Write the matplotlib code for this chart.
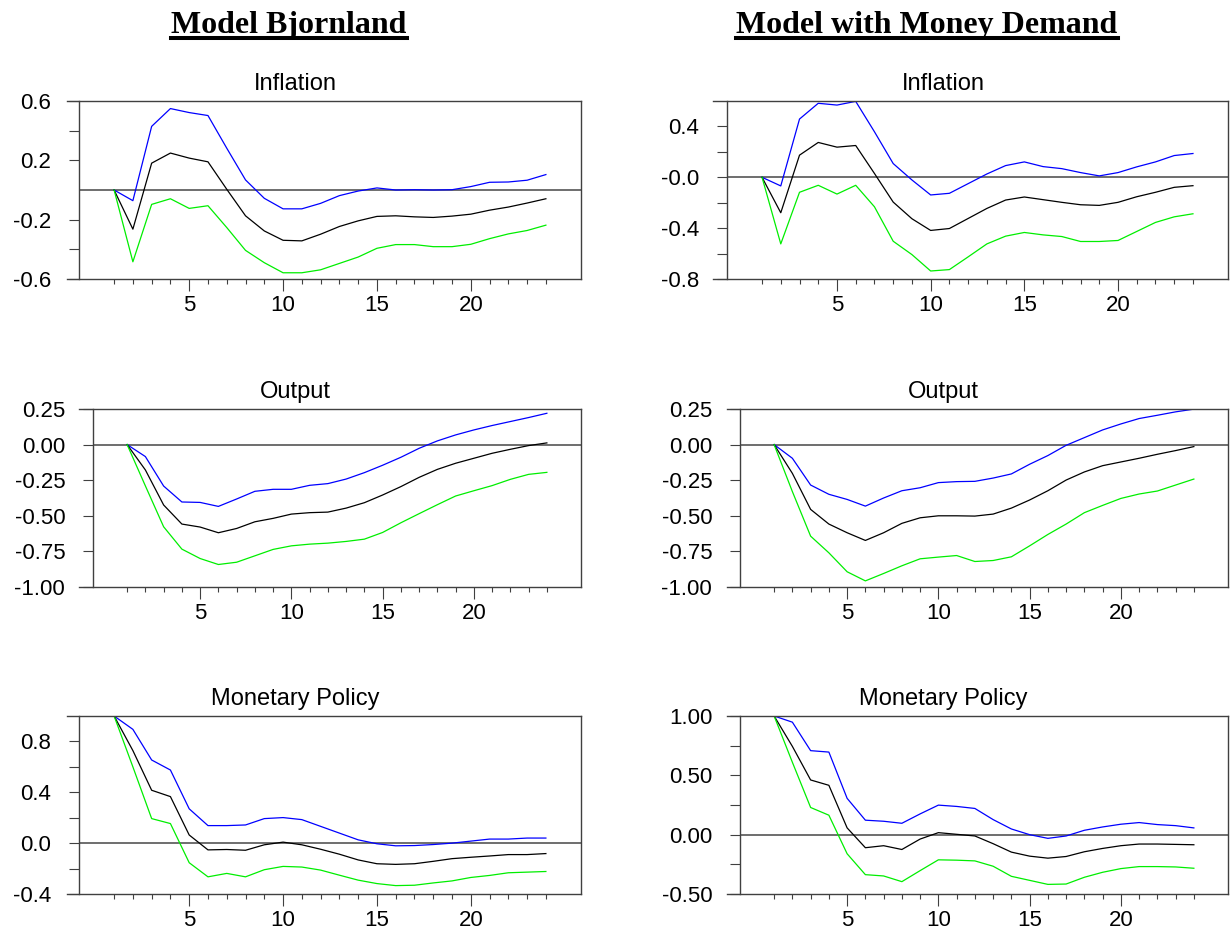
import matplotlib
matplotlib.use('Agg')
import matplotlib.pyplot as plt
from matplotlib.lines import Line2D

plt.rcParams['font.family'] = ['Liberation Sans', 'DejaVu Sans']

periods = list(range(1, 25))

# Model Bjornland - impulse responses (point estimate, upper band, lower band)
bjInfl = [0.0, -0.264, 0.181, 0.249, 0.215, 0.19, 0.005, -0.174, -0.276, -0.339, -0.343, -0.298,
          -0.246, -0.208, -0.178, -0.174, -0.181, -0.185, -0.176, -0.163, -0.136, -0.115, -0.088, -0.059]
bjInflUp = [0.0, -0.072, 0.429, 0.549, 0.522, 0.502, 0.282, 0.068, -0.056, -0.127, -0.127, -0.09,
            -0.038, -0.007, 0.014, 0.0, 0.002, 0.0, 0.002, 0.023, 0.052, 0.054, 0.066, 0.104]
bjInflLow = [0.0, -0.484, -0.097, -0.059, -0.124, -0.106, -0.253, -0.407, -0.49, -0.558, -0.558, -0.538,
             -0.495, -0.452, -0.393, -0.368, -0.368, -0.382, -0.382, -0.366, -0.328, -0.296, -0.273, -0.237]

bjOut = [0.0, -0.178, -0.424, -0.558, -0.579, -0.619, -0.589, -0.542, -0.518, -0.488, -0.478, -0.474,
         -0.446, -0.408, -0.354, -0.295, -0.23, -0.174, -0.131, -0.096, -0.061, -0.033, -0.007, 0.012]
bjOutUp = [0.0, -0.084, -0.291, -0.403, -0.406, -0.434, -0.382, -0.328, -0.314, -0.314, -0.286, -0.274,
           -0.242, -0.197, -0.145, -0.089, -0.026, 0.026, 0.068, 0.103, 0.134, 0.162, 0.19, 0.22]
bjOutLow = [0.0, -0.29, -0.577, -0.734, -0.8, -0.842, -0.826, -0.781, -0.736, -0.711, -0.699, -0.692,
            -0.68, -0.664, -0.617, -0.549, -0.485, -0.422, -0.361, -0.324, -0.288, -0.244, -0.209, -0.195]

bjMp = [1.0, 0.728, 0.416, 0.366, 0.064, -0.053, -0.05, -0.056, -0.013, 0.008, -0.013, -0.048,
        -0.087, -0.132, -0.162, -0.167, -0.162, -0.143, -0.122, -0.111, -0.101, -0.09, -0.09, -0.082]
bjMpUp = [1.0, 0.895, 0.654, 0.575, 0.27, 0.138, 0.138, 0.143, 0.193, 0.201, 0.185, 0.132,
          0.079, 0.026, -0.005, -0.021, -0.019, -0.011, 0.0, 0.016, 0.032, 0.032, 0.04, 0.04]
bjMpLow = [1.0, 0.6, 0.193, 0.154, -0.154, -0.265, -0.238, -0.265, -0.209, -0.183, -0.188, -0.212,
           -0.252, -0.291, -0.318, -0.334, -0.331, -0.313, -0.297, -0.27, -0.254, -0.233, -0.228, -0.223]

# Model with Money Demand
mdInfl = [0.0, -0.279, 0.174, 0.274, 0.237, 0.25, 0.03, -0.195, -0.326, -0.418, -0.403, -0.324,
          -0.245, -0.179, -0.155, -0.176, -0.197, -0.216, -0.221, -0.197, -0.153, -0.118, -0.079, -0.066]
mdInflUp = [0.0, -0.068, 0.458, 0.582, 0.568, 0.597, 0.358, 0.108, -0.021, -0.139, -0.126, -0.05,
            0.026, 0.092, 0.121, 0.084, 0.068, 0.037, 0.011, 0.037, 0.082, 0.121, 0.171, 0.187]
mdInflLow = [0.0, -0.524, -0.118, -0.063, -0.132, -0.063, -0.232, -0.503, -0.608, -0.737, -0.726, -0.626,
             -0.524, -0.463, -0.434, -0.453, -0.466, -0.505, -0.505, -0.497, -0.426, -0.355, -0.311, -0.287]

mdOut = [0.0, -0.202, -0.455, -0.558, -0.619, -0.673, -0.619, -0.553, -0.514, -0.5, -0.5, -0.502,
         -0.488, -0.446, -0.389, -0.324, -0.249, -0.192, -0.148, -0.122, -0.096, -0.068, -0.042, -0.014]
mdOutUp = [0.0, -0.096, -0.284, -0.349, -0.385, -0.432, -0.375, -0.324, -0.303, -0.267, -0.26, -0.258,
           -0.235, -0.206, -0.138, -0.077, -0.005, 0.049, 0.103, 0.145, 0.183, 0.206, 0.23, 0.249]
mdOutLow = [0.0, -0.33, -0.643, -0.76, -0.893, -0.957, -0.905, -0.851, -0.802, -0.79, -0.779, -0.821,
            -0.814, -0.788, -0.711, -0.631, -0.558, -0.478, -0.427, -0.378, -0.347, -0.326, -0.284, -0.242]

mdMp = [1.0, 0.744, 0.461, 0.416, 0.057, -0.11, -0.093, -0.125, -0.037, 0.017, 0.003, -0.011,
        -0.076, -0.147, -0.181, -0.198, -0.184, -0.144, -0.116, -0.093, -0.079, -0.079, -0.082, -0.085]
mdMpUp = [1.0, 0.948, 0.708, 0.696, 0.306, 0.122, 0.113, 0.096, 0.175, 0.249, 0.238, 0.221,
          0.127, 0.048, 0.0, -0.031, -0.011, 0.037, 0.065, 0.088, 0.102, 0.085, 0.076, 0.057]
mdMpLow = [1.0, 0.61, 0.229, 0.164, -0.161, -0.337, -0.348, -0.396, -0.303, -0.212, -0.215, -0.221,
           -0.266, -0.351, -0.385, -0.419, -0.416, -0.359, -0.317, -0.286, -0.269, -0.269, -0.272, -0.283]

# y axis ticks (labelled ones and unlabelled ones)
inflTicksL = [-0.6, -0.2, 0.2, 0.6]
inflLabelsL = ['-0.6', '-0.2', '0.2', '0.6']
inflMinorL = [-0.4, 0.4]
inflTicksR = [-0.8, -0.4, 0.0, 0.4]
inflLabelsR = ['-0.8', '-0.4', '-0.0', '0.4']
inflMinorR = [-0.6, -0.2, 0.2]
outTicks = [-1.0, -0.75, -0.5, -0.25, 0.0, 0.25]
outLabels = ['-1.00', '-0.75', '-0.50', '-0.25', '0.00', '0.25']
mpTicksL = [-0.4, 0.0, 0.4, 0.8]
mpLabelsL = ['-0.4', '0.0', '0.4', '0.8']
mpMinorL = [-0.2, 0.2, 0.6]
mpTicksR = [-0.5, 0.0, 0.5, 1.0]
mpLabelsR = ['-0.50', '0.00', '0.50', '1.00']
mpMinorR = [-0.25, 0.25, 0.75]

figW, figH = 1230, 930
fig = plt.figure(figsize=(figW / 100, figH / 100), dpi=100)

SPINE_X = -0.87
X_RIGHT = 25.87
PANEL_H = 178


def makePanel(frameLeft, spinePx, rightPx, topPx, title, titleX, mid, upper, lower,
              ylim, ticks, labels, minor):
    ax = fig.add_axes([frameLeft / figW, 1 - (topPx + PANEL_H) / figH,
                       (rightPx - frameLeft) / figW, PANEL_H / figH])
    unit = (rightPx - spinePx) / (X_RIGHT - SPINE_X)
    ax.set_xlim(SPINE_X - (spinePx - frameLeft) / unit, X_RIGHT)
    ax.set_ylim(*ylim)
    ax.spines['left'].set_position(('data', SPINE_X))
    for s in ax.spines.values():
        s.set_color('#404040')
        s.set_linewidth(1.0)
    ax.hlines(0, SPINE_X, X_RIGHT, color='#555555', lw=1.2, zorder=1)
    ax.plot(periods, upper, color='#0000ff', lw=0.9)
    ax.plot(periods, mid, color='black', lw=0.9)
    ax.plot(periods, lower, color='#00ee00', lw=0.9)
    ax.set_xticks([5, 10, 15, 20])
    ax.set_xticks(periods, minor=True)
    ax.set_yticks(ticks)
    ax.set_yticklabels(labels)
    ax.set_yticks(minor, minor=True)
    ax.tick_params(axis='x', which='major', direction='out', length=8.5, width=0.8,
                   labelsize=16, pad=3, color='#404040')
    ax.tick_params(axis='x', which='minor', direction='out', length=3.6, width=0.8, color='#404040')
    ax.tick_params(axis='y', which='both', direction='out', length=7, width=0.8,
                   labelsize=16, pad=13, color='#404040')
    fig.text(titleX / figW, 1 - (topPx - 11) / figH, title, ha='center', va='baseline', fontsize=17)
    return ax


# left column: Model Bjornland
makePanel(67, 79, 581, 101, 'Inflation', 295, bjInfl, bjInflUp, bjInflLow,
          (-0.6, 0.6), inflTicksL, inflLabelsL, inflMinorL)
makePanel(79, 93, 581, 409, 'Output', 295, bjOut, bjOutUp, bjOutLow,
          (-1.0, 0.25), outTicks, outLabels, [])
makePanel(67, 79, 581, 716, 'Monetary Policy', 295, bjMp, bjMpUp, bjMpLow,
          (-0.4, 1.0), mpTicksL, mpLabelsL, mpMinorL)

# right column: Model with Money Demand
makePanel(713, 727, 1228, 101, 'Inflation', 943, mdInfl, mdInflUp, mdInflLow,
          (-0.8, 0.6), inflTicksR, inflLabelsR, inflMinorR)
makePanel(727, 740, 1228, 409, 'Output', 943, mdOut, mdOutUp, mdOutLow,
          (-1.0, 0.25), outTicks, outLabels, [])
makePanel(727, 740, 1228, 716, 'Monetary Policy', 943, mdMp, mdMpUp, mdMpLow,
          (-0.5, 1.0), mpTicksR, mpLabelsR, mpMinorR)

# underlined column headers
headers = []
for txt, cx in [('Model Bjornland', 289), ('Model with Money Demand', 927)]:
    headers.append(fig.text(cx / figW, 1 - 33 / figH, txt, ha='center', va='baseline',
                            fontsize=23, fontweight='bold', family=['Liberation Serif', 'DejaVu Serif']))

fig.canvas.draw()
renderer = fig.canvas.get_renderer()
for h in headers:
    bb = h.get_window_extent(renderer).transformed(fig.transFigure.inverted())
    fig.add_artist(Line2D([bb.x0, bb.x1], [1 - 38 / figH, 1 - 38 / figH],
                          transform=fig.transFigure, color='black', lw=2.9))

fig.savefig('out.png', dpi=100)
